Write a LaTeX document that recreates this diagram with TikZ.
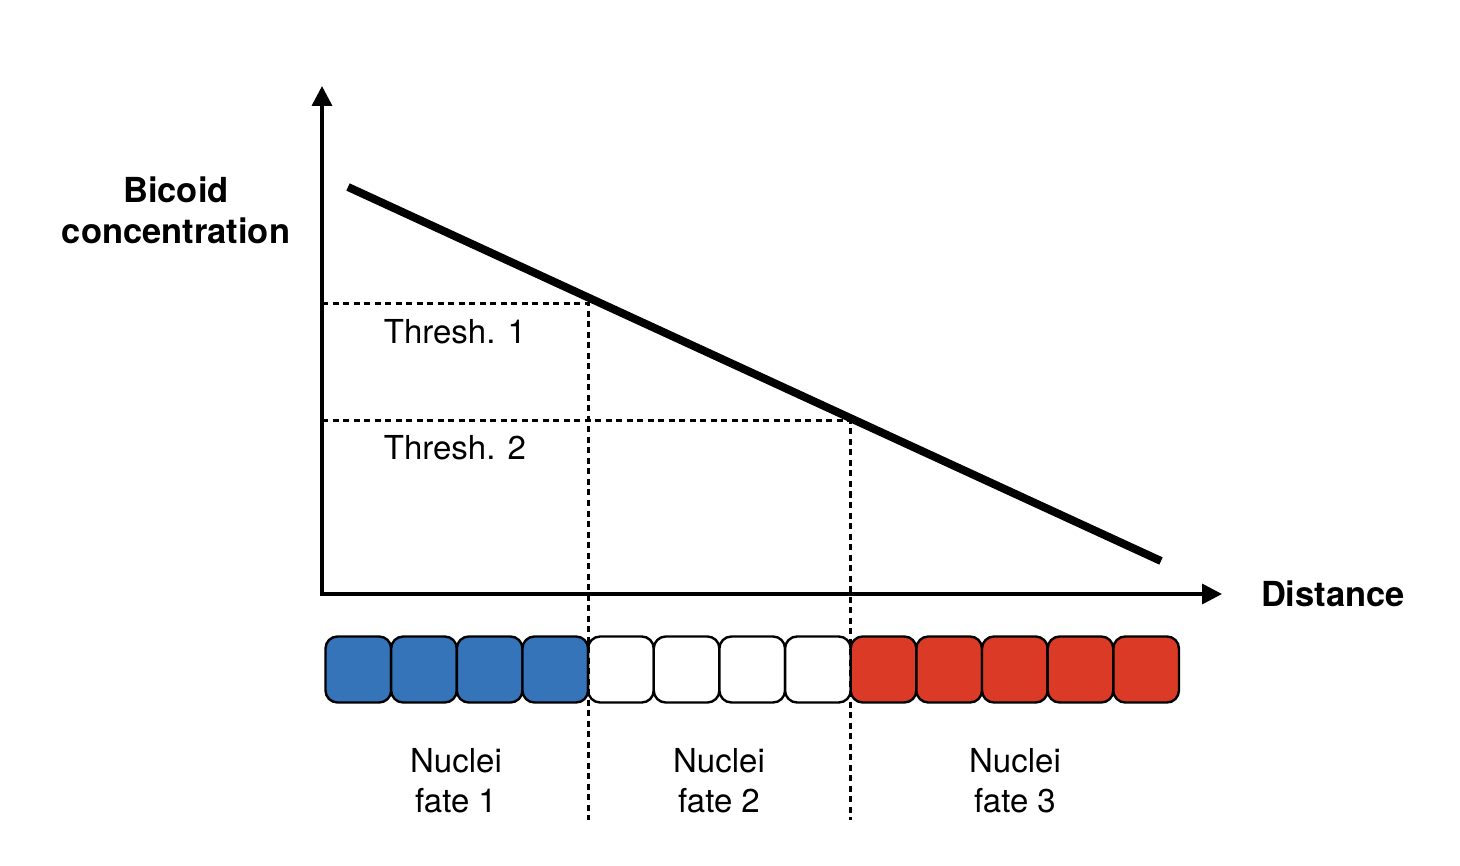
\documentclass[tikz,border=0pt]{standalone}
\usepackage{fontspec}
\setmainfont{TeX Gyre Heros}
\usetikzlibrary{arrows.meta}
\definecolor{cblue}{HTML}{3574B8}
\definecolor{cred}{HTML}{DB3A26}
\tikzset{
  axis/.style={line width=3.5pt,-{Triangle[width=20pt,length=20pt]}},
  guide/.style={line width=3pt,dash pattern=on 6pt off 4.5pt},
  grad/.style={line width=8pt},
  cell/.style={draw,line width=2.4pt,rounded corners=12pt,minimum width=65.65pt,minimum height=66pt,inner sep=0pt},
  lbl/.style={font=\fontsize{33}{40}\selectfont,align=center,inner sep=0pt},
  blbl/.style={lbl,font=\fontsize{34.5}{41}\selectfont\bfseries}
}
\begin{document}
\begin{tikzpicture}[x=1pt,y=-1pt]
\useasboundingbox (0,0) rectangle (1460,866);
% cells
\foreach \i in {0,...,12}{
  \pgfmathsetmacro{\cx}{325.5+65.65*(\i+0.5)}
  \ifnum\i<4 \def\cc{cblue}\else\ifnum\i<8 \def\cc{white}\else\def\cc{cred}\fi\fi
  \node[cell,fill=\cc] (c\i) at (\cx,669.5) {};
}
% coordinates
\coordinate (O) at (322,594);
\coordinate (ytip) at (322,86);
\coordinate (xtip) at (1222,594);
\coordinate (t1l) at (322,304);
\coordinate (t1r) at (588,304);
\coordinate (t2l) at (322,421);
\coordinate (t2r) at (850,421);
\coordinate (b1) at (588,820);
\coordinate (b2) at (850,820);
\coordinate (gs) at (348,187);
\coordinate (ge) at (1161,561);
% guides
\draw[guide] (t1l) -- (t1r) -- (b1);
\draw[guide] (t2l) -- (t2r) -- (b2);
% gradient
\draw[grad] (gs) -- (ge);
% axes
\draw[axis] (O) -- (ytip);
\draw[axis] ([xshift=-1.75pt]O) -- (xtip);
% labels
\node[blbl,anchor=base] (ylab) at (176,244) {Bicoid\\concentration};
\node[blbl,anchor=base] (xlab) at (1333,606) {Distance};
\node[lbl,anchor=base] (th1) at (455,344) {Thresh. 1};
\node[lbl,anchor=base] (th2) at (455,460) {Thresh. 2};
\node[lbl,anchor=base] (f1) at (456,812) {Nuclei\\fate 1};
\node[lbl,anchor=base] (f2) at (719,812) {Nuclei\\fate 2};
\node[lbl,anchor=base] (f3) at (1015,812) {Nuclei\\fate 3};
\end{tikzpicture}
\end{document}
